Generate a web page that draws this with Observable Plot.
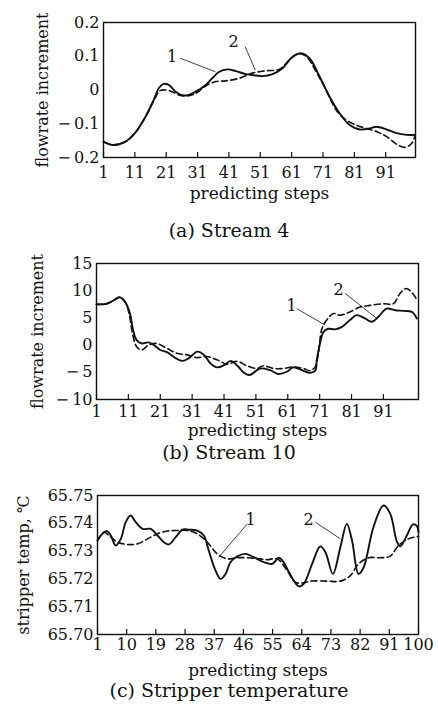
<!DOCTYPE html>
<html><head><meta charset="utf-8">
<script src="https://cdn.jsdelivr.net/npm/d3@7"></script>
<script src="https://cdn.jsdelivr.net/npm/@observablehq/plot@0.6"></script>
<style>
body{margin:0;background:#fff;}
#chart{width:438px;font-family:"DejaVu Serif",serif;color:#111;}
#chart svg{display:block;overflow:visible;}
.cap{height:28px;line-height:28px;font-size:19px;text-align:center;padding-left:20px;box-sizing:border-box;white-space:nowrap;}
</style></head><body><div id="chart"></div>
<script>
// ---------- Panel (a) Stream 4 ----------
const aSteps1 = [1,4,8,11,14.4,17,18.6,20.2,21.8,24,26,28,30.4,33.6,35.7,37.9,40.5,43.2,46.4,49.6,51.7,54.9,58,61.4,64,66.7,69.9,73.1,76.3,79.5,82.7,85.9,88,91.3,94.5,97.7,100.4];
const aVals1  = [-0.153,-0.163,-0.153,-0.128,-0.079,-0.03,0.005,0.018,0.015,-0.005,-0.015,-0.015,-0.005,0.015,0.035,0.054,0.061,0.056,0.047,0.043,0.041,0.047,0.064,0.099,0.109,0.094,0.04,-0.02,-0.069,-0.104,-0.117,-0.114,-0.109,-0.117,-0.128,-0.133,-0.133];
const aSteps2 = [1,4,8,11,14.4,17,19,21,22.9,25,27.2,30.4,33.6,36.8,40,44.3,48.5,52.8,57,60.3,63,65.6,68.8,72,75.2,78.4,81.6,84.8,88,91.3,94.5,97.2,99.3,100.4];
const aVals2  = [-0.153,-0.163,-0.153,-0.128,-0.079,-0.032,-0.002,0,-0.005,-0.015,-0.018,-0.01,0.012,0.025,0.027,0.035,0.05,0.057,0.061,0.089,0.107,0.1,0.054,0,-0.059,-0.089,-0.104,-0.114,-0.123,-0.138,-0.161,-0.17,-0.158,-0.133];
const aXTicks = [1,11,21,31,41,51,61,71,81,91];
const aYTicks = [-0.2,-0.1,0,0.1,0.2];
const aNoteText = ["1","2"];
const aNoteX = [22.9,42.5], aNoteY = [0.099,0.143];
const aLeadX1 = [25.5,46.2], aLeadY1 = [0.094,0.128], aLeadX2 = [36.7,49.4], aLeadY2 = [0.054,0.059];

// ---------- Panel (b) Stream 10 ----------
const bSteps1 = [1,4.2,6.3,8.2,10,11.5,12.5,13.6,15.2,17.3,19,21,23.1,25.8,27.9,30,32.6,34.7,36.8,38.9,41,43.1,45.2,47.3,49,52.3,55.4,58,60.7,62.7,65.4,68,69.6,70.1,71.1,72.2,73.7,75.8,77.9,80.5,82.6,85.2,87.4,89.4,92,94.7,97.3,99.9,101.5];
const bVals1  = [7.5,7.6,8.2,8.8,7.9,5.8,2.7,0.9,0.3,0.5,0,-0.9,-1.3,-2.4,-2.9,-2.4,-1.2,-1.8,-3.4,-4.1,-3.7,-2.9,-3.8,-5.1,-5.5,-4.3,-4.6,-5.3,-4.9,-4.1,-4.6,-5.1,-4.7,-2.7,0.3,2.4,3.0,2.9,3.3,4.6,5.5,4.9,4.3,5.2,6.7,6.4,6.3,6.1,4.9];
const bSteps2 = [1,4.2,6.3,8.2,10,11.3,12.1,13.6,15.2,17.3,19.9,23.1,26.2,29.4,32.5,35.6,38.8,41.9,45.1,48.2,51.3,53.3,56.5,59.6,62.7,65.9,68,69.6,70.6,71.7,73.2,75.3,77.4,80.5,83.7,86.8,91,94.1,96.2,98.1,99.9,101.3];
const bVals2  = [7.5,7.6,8.2,8.8,7.9,5.6,2.7,-0.3,-0.9,0,0.3,-0.6,-1.5,-1.8,-2.3,-2.1,-2.7,-3.5,-3.0,-3.8,-4.3,-3.8,-4.3,-4.3,-4.0,-4.3,-4.7,-4.0,-1.5,3.0,4.6,5.8,5.5,6.1,7.0,7.3,7.6,7.6,9.5,10.4,9.7,8.5];
const bXTicks = [1,11,21,31,41,51,61,71,81,91];
const bYTicks = [-10,-5,0,5,10,15];
const bNoteText = ["1","2"];
const bNoteX = [62.2,76.9], bNoteY = [7.3,10.1];
const bLeadX1 = [63.8,79], bLeadY1 = [6.7,9.5], bLeadX2 = [72.7,88.9], bLeadY2 = [3.7,4.9];

// ---------- Panel (c) Stripper temperature ----------
const cSteps1 = [1,2.5,3.9,5.1,6.6,8.2,9.7,11.2,12.8,14.9,17.4,19.5,21.5,23,25.1,27.2,29.2,31.8,33.8,35.3,37.4,39,40.5,42,44.1,46.6,49.2,52.3,54.9,56.9,58.4,60,61.5,63.1,64.6,67.2,69.7,71.3,73.6,75.9,77.9,79.5,81.5,83.1,86.1,89.2,91.3,93.3,94.4,96.4,98.3,99.5,100];
const cVals1  = [65.7338,65.7362,65.7372,65.7356,65.732,65.7344,65.7404,65.7428,65.7404,65.738,65.738,65.7356,65.7332,65.7324,65.735,65.7377,65.7377,65.7374,65.7356,65.7302,65.723,65.72,65.7218,65.726,65.7281,65.729,65.7278,65.726,65.7254,65.7276,65.726,65.7225,65.7194,65.7173,65.7182,65.7254,65.7317,65.7296,65.7218,65.7314,65.7398,65.7338,65.7218,65.7242,65.7386,65.7464,65.7434,65.7335,65.7317,65.7356,65.7396,65.739,65.7368];
const cSteps2 = [1,3,5.1,7.2,10.2,13.3,16.4,19.5,22.5,25.6,28.7,31.8,34.9,37.9,41,44.1,47.2,51.3,53.3,56.4,59.5,62,64.6,66.7,71.8,75.9,79,81.5,84.6,88.2,91.3,93.8,96.9,100];
const cVals2  = [65.7338,65.7368,65.735,65.7332,65.7324,65.7326,65.7344,65.7362,65.7372,65.7374,65.7374,65.7362,65.7332,65.729,65.7272,65.7276,65.7276,65.7272,65.7269,65.7272,65.723,65.7188,65.7186,65.7192,65.7192,65.7192,65.7212,65.7254,65.7276,65.7276,65.7282,65.732,65.7344,65.7353];
const cXTicks = [1,10,19,28,37,46,55,64,73,82,91,100];
const cYTicks = [65.70,65.71,65.72,65.73,65.74,65.75];
const cNoteText = ["1","2"];
const cNoteX = [48.2,66.1], cNoteY = [65.7413,65.7413];
const cLeadX1 = [47.2,68.2], cLeadY1 = [65.7398,65.7404], cLeadX2 = [38.4,75.9], cLeadY2 = [65.7278,65.7344];

const xLabel = "predicting steps";
const captions = ["(a) Stream 4","(b) Stream 10","(c) Stripper temperature"];
const ink = "#111";

function neg(d, digits) {
  const s = Math.abs(d).toFixed(digits);
  return d < 0 ? "\u2212\u2009" + s : s;
}

function panel(o) {
  const t1 = o.s1.map((x, i) => ({x, y: o.v1[i]}));
  const t2 = o.s2.map((x, i) => ({x, y: o.v2[i]}));
  const notes = o.nt.map((t, i) => ({t, x: o.nx[i], y: o.ny[i]}));
  const leads = o.lx1.map((x1, i) => ({x1, y1: o.ly1[i], x2: o.lx2[i], y2: o.ly2[i]}));
  const [y0, y1] = o.yDomain;
  const tickLen = (y1 - y0) * 5 / (o.height - o.mt - o.mb);
  return Plot.plot({
    width: 438, height: o.height,
    marginTop: o.mt, marginBottom: o.mb, marginLeft: o.ml, marginRight: o.mr,
    x: {domain: o.xDomain},
    y: {domain: o.yDomain},
    style: {fontFamily: "DejaVu Serif, serif", fontSize: "16px", color: ink, background: "#fff", overflow: "visible"},
    marks: [
      Plot.ruleX(o.xTicks, {x: d => d, y1: y0, y2: y0 + tickLen, stroke: ink, strokeWidth: 1.2}),
      Plot.line(t2, {x: "x", y: "y", stroke: ink, strokeWidth: 1.6, strokeDasharray: "6,3.5", curve: "catmull-rom"}),
      Plot.line(t1, {x: "x", y: "y", stroke: ink, strokeWidth: 1.9, curve: "catmull-rom"}),
      Plot.link(leads, {x1: "x1", y1: "y1", x2: "x2", y2: "y2", stroke: ink, strokeWidth: 0.8}),
      Plot.text(notes, {x: "x", y: "y", text: "t", fontSize: 16, fill: ink}),
      Plot.frame({stroke: ink, strokeWidth: 1.4}),
      Plot.axisX(o.xTicks, {tickSize: 0, tickPadding: o.xPad, label: null, fontSize: 16, fill: ink}),
      Plot.axisY(o.yTicks, {tickSize: 0, tickPadding: 4, tickFormat: o.fmt, label: null, fontSize: 16, fill: ink}),
      Plot.text([xLabel], {frameAnchor: "bottom", dy: o.xLabDy, lineAnchor: "middle", textAnchor: "middle", fontSize: 17, fill: ink}),
      Plot.text([o.yLabel], {frameAnchor: "left", dx: o.yLabDx, rotate: -90, lineAnchor: "middle", textAnchor: "middle", fontSize: 16, fill: ink})
    ]
  });
}

const root = document.getElementById("chart");
function addCap(t) {
  const d = document.createElement("div");
  d.className = "cap"; d.textContent = t; root.appendChild(d);
}

root.appendChild(panel({
  s1: aSteps1, v1: aVals1, s2: aSteps2, v2: aVals2,
  nt: aNoteText, nx: aNoteX, ny: aNoteY, lx1: aLeadX1, ly1: aLeadY1, lx2: aLeadX2, ly2: aLeadY2,
  xTicks: aXTicks, yTicks: aYTicks, xDomain: [1, 100.5], yDomain: [-0.2, 0.2],
  height: 216, mt: 22, mb: 59, ml: 103, mr: 23, xPad: 9, xLabDy: 36, yLabDx: -61,
  fmt: d => d === 0 ? "0" : neg(d, 1), yLabel: "flowrate increment"
}));
addCap(captions[0]);
root.appendChild(panel({
  s1: bSteps1, v1: bVals1, s2: bSteps2, v2: bVals2,
  nt: bNoteText, nx: bNoteX, ny: bNoteY, lx1: bLeadX1, ly1: bLeadY1, lx2: bLeadX2, ly2: bLeadY2,
  xTicks: bXTicks, yTicks: bYTicks, xDomain: [1, 102], yDomain: [-10, 15],
  height: 194, mt: 19, mb: 39, ml: 96, mr: 20, xPad: 6, xLabDy: 31, yLabDx: -59,
  fmt: d => neg(d, 0), yLabel: "flowrate increment"
}));
addCap(captions[1]);
root.appendChild(panel({
  s1: cSteps1, v1: cVals1, s2: cSteps2, v2: cVals2,
  nt: cNoteText, nx: cNoteX, ny: cNoteY, lx1: cLeadX1, ly1: cLeadY1, lx2: cLeadX2, ly2: cLeadY2,
  xTicks: cXTicks, yTicks: cYTicks, xDomain: [1, 100], yDomain: [65.70, 65.75],
  height: 210, mt: 29, mb: 42, ml: 97, mr: 20, xPad: 4, xLabDy: 36, yLabDx: -74,
  fmt: d => d.toFixed(2), yLabel: "stripper temp, \u2103"
}));
addCap(captions[2]);
</script></body></html>
